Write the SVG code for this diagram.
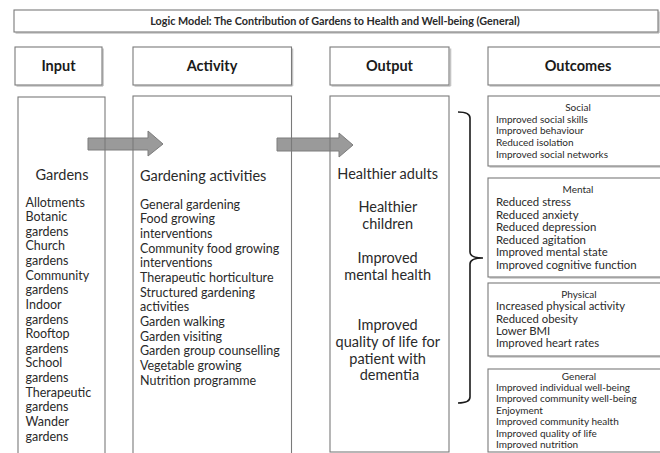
<svg xmlns="http://www.w3.org/2000/svg" width="660" height="453" viewBox="0 0 660 453">
<defs>
<style>
.box{fill:none;stroke:#7a7a7a;stroke-width:1.1}
.sh{fill:none;stroke:#c4c4c4;stroke-width:1.6}
.t{font-family:Lato,"Open Sans","Liberation Sans",sans-serif;fill:#2a2a2a}
.hd{font-size:14.5px;font-weight:bold;text-anchor:middle;fill:#1a1a1a}
.big{font-size:14.5px}
.li{font-size:12.5px}
.mid{text-anchor:middle}
.s10{font-size:10px}
.s12{font-size:11.4px}
.s115{font-size:11.3px}
.arrow{fill:#9a9a9a;stroke:#7c7c7c;stroke-width:1}
</style>
</defs>
<rect x="0" y="0" width="660" height="453" fill="#ffffff"/>

<g id="connectors">
<path class="arrow" d="M88,138 H148 V131 L163,144 L148,156 V150 H88 Z"/>
<path class="arrow" d="M277,138 H339 V133 L353,145 L339,157 V151 H277 Z"/>
<path d="M458,112 Q470,112 470,118 V252 Q470,258 483,258 Q470,258 470,264 V397 Q470,403 458,403" fill="none" stroke="#1a1a1a" stroke-width="1.6"/>
</g>

<g id="title">
<path class="sh" d="M15.5,33 H659 M659,11.5 V33"/>
<rect class="box" x="14" y="10" width="644" height="22"/>
<text class="t" x="335" y="24.8" text-anchor="middle" font-size="10.8" font-weight="bold" fill="#1a1a1a">Logic  Model: The Contribution of Gardens to Health and Well-being (General)</text>
</g>

<g id="header-input">
<path class="sh" d="M16.5,86 H103 M103,48.5 V86"/>
<rect class="box" x="15" y="47" width="87" height="38"/>
<text class="t hd" x="58.5" y="71">Input</text>
</g>
<g id="header-activity">
<path class="sh" d="M134.5,86 H292.5 M292.5,48.5 V86"/>
<rect class="box" x="133" y="47" width="158.5" height="38"/>
<text class="t hd" x="212" y="71">Activity</text>
</g>
<g id="header-output">
<path class="sh" d="M331.5,86 H450.5 M450.5,48.5 V86"/>
<rect class="box" x="330" y="47" width="119" height="38"/>
<text class="t hd" x="389.5" y="71">Output</text>
</g>
<g id="header-outcomes">
<path class="sh" d="M489.5,86 H662"/>
<rect class="box" x="488" y="47" width="180" height="38"/>
<text class="t hd" x="578" y="71">Outcomes</text>
</g>

<g id="input">
<rect class="box" x="18" y="97" width="87" height="360"/>
<text class="t big mid" x="62" y="179.5" font-size="15">Gardens</text>
<text class="t li" x="25.5">
<tspan x="25.5" y="206.5">Allotments</tspan>
<tspan x="25.5" y="221.1">Botanic</tspan>
<tspan x="25.5" y="235.8">gardens</tspan>
<tspan x="25.5" y="250.4">Church</tspan>
<tspan x="25.5" y="265">gardens</tspan>
<tspan x="25.5" y="279.6">Community</tspan>
<tspan x="25.5" y="294.3">gardens</tspan>
<tspan x="25.5" y="308.9">Indoor</tspan>
<tspan x="25.5" y="323.5">gardens</tspan>
<tspan x="25.5" y="338.1">Rooftop</tspan>
<tspan x="25.5" y="352.8">gardens</tspan>
<tspan x="25.5" y="367.4">School</tspan>
<tspan x="25.5" y="382">gardens</tspan>
<tspan x="25.5" y="396.6">Therapeutic</tspan>
<tspan x="25.5" y="411.3">gardens</tspan>
<tspan x="25.5" y="425.9">Wander</tspan>
<tspan x="25.5" y="440.5">gardens</tspan>
</text>
</g>

<g id="activity">
<rect class="box" x="133" y="96" width="158.5" height="361"/>
<text class="t big" x="140" y="181.3">Gardening activities</text>
<text class="t li">
<tspan x="140" y="208.5">General gardening</tspan>
<tspan x="140" y="223.2">Food growing</tspan>
<tspan x="140" y="237.8">interventions</tspan>
<tspan x="140" y="252.5">Community food growing</tspan>
<tspan x="140" y="267.2">interventions</tspan>
<tspan x="140" y="281.8">Therapeutic horticulture</tspan>
<tspan x="140" y="296.5">Structured gardening</tspan>
<tspan x="140" y="311.2">activities</tspan>
<tspan x="140" y="325.9">Garden walking</tspan>
<tspan x="140" y="340.5">Garden visiting</tspan>
<tspan x="140" y="355.2">Garden group counselling</tspan>
<tspan x="140" y="369.9">Vegetable growing</tspan>
<tspan x="140" y="384.5">Nutrition programme</tspan>
</text>
</g>

<g id="output">
<rect class="box" x="330" y="96" width="119" height="356"/>
<text class="t big mid">
<tspan x="389.5" y="179.2">Healthier adults</tspan>
<tspan x="389.5" y="212.2">Healthier</tspan>
<tspan x="389.5" y="229">children</tspan>
<tspan x="389.5" y="263">Improved</tspan>
<tspan x="389.5" y="279.5">mental health</tspan>
<tspan x="389.5" y="330.2">Improved</tspan>
<tspan x="389.5" y="347">quality of life for</tspan>
<tspan x="389.5" y="363.5">patient with</tspan>
<tspan x="389.5" y="380.2">dementia</tspan>
</text>
</g>

<g id="outcome-social">
<path class="sh" d="M489.5,167 H662"/>
<rect class="box" x="488" y="96" width="180" height="70"/>
<text class="t s10 mid" x="578" y="110.6">Social</text>
<text class="t s10">
<tspan x="496" y="122.6">Improved social skills</tspan>
<tspan x="496" y="134.3">Improved behaviour</tspan>
<tspan x="496" y="146">Reduced isolation</tspan>
<tspan x="496" y="157.7">Improved social networks</tspan>
</text>
</g>

<g id="outcome-mental">
<path class="sh" d="M489.5,278 H662"/>
<rect class="box" x="488" y="178" width="180" height="99"/>
<text class="t s10 mid" x="578" y="192.6">Mental</text>
<text class="t s12">
<tspan x="496" y="206">Reduced stress</tspan>
<tspan x="496" y="218.6">Reduced anxiety</tspan>
<tspan x="496" y="231.2">Reduced depression</tspan>
<tspan x="496" y="243.8">Reduced agitation</tspan>
<tspan x="496" y="256.4">Improved mental state</tspan>
<tspan x="496" y="269">Improved cognitive function</tspan>
</text>
</g>

<g id="outcome-physical">
<path class="sh" d="M489.5,357 H662"/>
<rect class="box" x="488" y="283" width="180" height="73"/>
<text class="t s10 mid" x="579" y="297.6">Physical</text>
<text class="t s115">
<tspan x="496" y="310.1">Increased physical activity</tspan>
<tspan x="496" y="322.5">Reduced obesity</tspan>
<tspan x="496" y="334.9">Lower BMI</tspan>
<tspan x="496" y="347.3">Improved heart rates</tspan>
</text>
</g>

<g id="outcome-general">
<rect class="box" x="488" y="369" width="180" height="83"/>
<text class="t s10 mid" x="579" y="379.6">General</text>
<text class="t s10">
<tspan x="496" y="390.6">Improved individual well-being</tspan>
<tspan x="496" y="402.1">Improved community well-being</tspan>
<tspan x="496" y="413.6">Enjoyment</tspan>
<tspan x="496" y="425.1">Improved community health</tspan>
<tspan x="496" y="436.6">Improved quality of life</tspan>
<tspan x="496" y="448.1">Improved nutrition</tspan>
</text>
</g>
</svg>
